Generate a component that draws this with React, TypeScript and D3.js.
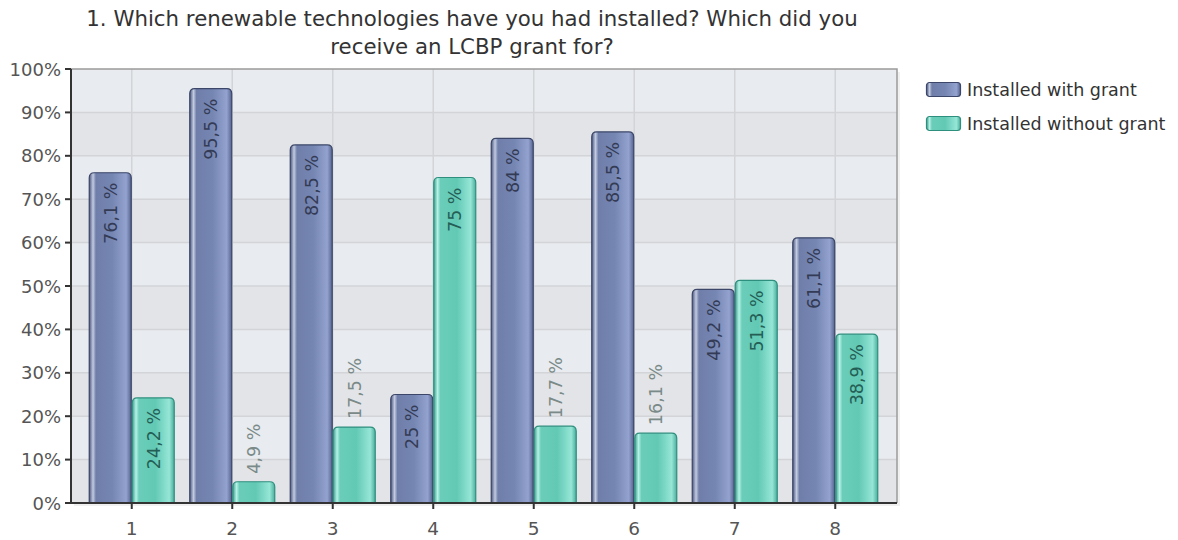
import React from "react";
import * as d3 from "d3";

const categories = ["1", "2", "3", "4", "5", "6", "7", "8"];
const withGrant = [76.1, 95.5, 82.5, 25, 84, 85.5, 49.2, 61.1];
const withoutGrant = [24.2, 4.9, 17.5, 75, 17.7, 16.1, 51.3, 38.9];
const seriesNames = ["Installed with grant", "Installed without grant"];
const yTicks = [0, 10, 20, 30, 40, 50, 60, 70, 80, 90, 100];
const titleLines = [
  "1. Which renewable technologies have you had installed? Which did you",
  "receive an LCBP grant for?",
];

const W = 1178;
const H = 540;
const plot = { left: 71, right: 897, top: 69, bottom: 503 };

const fmt = (v: number) => String(v).replace(".", ",") + " %";

export default function App() {
  const x = d3.scaleBand<string>().domain(categories).range([81.5, 885.5]).padding(0);
  const y = d3.scaleLinear().domain([0, 100]).range([plot.bottom, plot.top]);
  const barW = 43;
  const series = [
    { name: seriesNames[0], values: withGrant, grad: "gBlue", stroke: "#3b4668", inText: "#333b55", offset: -barW },
    { name: seriesNames[1], values: withoutGrant, grad: "gTeal", stroke: "#2f8f7f", inText: "#245e55", offset: 0 },
  ];
  const font = "'DejaVu Sans', Verdana, sans-serif";
  const stripes = yTicks.slice(0, -1);

  const barPath = (x0: number, w: number, yTop: number, yBot: number, r: number) => {
    const rr = Math.min(r, (yBot - yTop) / 2);
    return `M${x0},${yBot} L${x0},${yTop + rr} Q${x0},${yTop} ${x0 + rr},${yTop} L${x0 + w - rr},${yTop} Q${x0 + w},${yTop} ${x0 + w},${yTop + rr} L${x0 + w},${yBot} Z`;
  };

  return (
    <svg width={W} height={H} style={{ position: "absolute", left: 0, top: 0, fontFamily: font }}>
      <defs>
        <linearGradient id="gBlue" x1="0" x2="1" y1="0" y2="0">
          <stop offset="0%" stopColor="#4a5680" />
          <stop offset="9%" stopColor="#c3cbe0" />
          <stop offset="16%" stopColor="#6f7ea9" />
          <stop offset="55%" stopColor="#7686b3" />
          <stop offset="88%" stopColor="#93a2cf" />
          <stop offset="100%" stopColor="#56638f" />
        </linearGradient>
        <linearGradient id="gTeal" x1="0" x2="1" y1="0" y2="0">
          <stop offset="0%" stopColor="#3a9e8d" />
          <stop offset="9%" stopColor="#b6f2e6" />
          <stop offset="16%" stopColor="#6acdb9" />
          <stop offset="55%" stopColor="#62c9b5" />
          <stop offset="88%" stopColor="#96e6d6" />
          <stop offset="100%" stopColor="#4aae9c" />
        </linearGradient>
      </defs>
      <rect x={0} y={0} width={W} height={H} fill="#ffffff" />
      {/* title */}
      {titleLines.map((t, i) => (
        <text key={i} x={472} y={26 + i * 28} textAnchor="middle" fontSize={21.3} fill="#333">
          {t}
        </text>
      ))}
      {/* plot shadow */}
      <rect x={plot.left + 3} y={plot.top + 3} width={plot.right - plot.left} height={plot.bottom - plot.top} fill="#f0f0f0" />
      {/* stripes */}
      {stripes.map((v, i) => (
        <rect
          key={v}
          x={plot.left}
          y={y(v + 10)}
          width={plot.right - plot.left}
          height={y(v) - y(v + 10)}
          fill={i % 2 === 0 ? "#e3e4e7" : "#e8ebef"}
        />
      ))}
      {/* grid */}
      {yTicks.slice(1, -1).map((v) => (
        <line key={v} x1={plot.left} x2={plot.right} y1={y(v)} y2={y(v)} stroke="#d2d4d8" strokeWidth={1.5} />
      ))}
      {categories.map((c) => (
        <line key={c} x1={x(c)! + x.bandwidth() / 2} x2={x(c)! + x.bandwidth() / 2} y1={plot.top} y2={plot.bottom} stroke="#d2d4d8" strokeWidth={1.5} />
      ))}
      {/* border top/right */}
      <path d={`M${plot.left},${plot.top} L${plot.right},${plot.top} L${plot.right},${plot.bottom}`} fill="none" stroke="#9a9a9a" strokeWidth={1.5} />
      {/* bars */}
      {series.map((s) =>
        categories.map((c, i) => {
          const cx = x(c)! + x.bandwidth() / 2;
          const x0 = cx + s.offset;
          const v = s.values[i];
          return (
            <path key={s.name + c} d={barPath(x0 + 0.5, barW - 1, y(v), plot.bottom, 5)} fill={`url(#${s.grad})`} stroke={s.stroke} strokeWidth={1.2} />
          );
        })
      )}
      {/* value labels */}
      {series.map((s) =>
        categories.map((c, i) => {
          const cx = x(c)! + x.bandwidth() / 2;
          const lx = cx + s.offset + barW / 2 + 6.5;
          const v = s.values[i];
          const inside = v > 20;
          const ly = inside ? y(v) + 10 : y(v) - 8;
          return (
            <text
              key={"l" + s.name + c}
              transform={`translate(${lx},${ly}) rotate(-90)`}
              textAnchor={inside ? "end" : "start"}
              fontSize={17.5}
              fill={inside ? s.inText : "#7a8a88"}
            >
              {fmt(v)}
            </text>
          );
        })
      )}
      {/* axes */}
      <line x1={plot.left} x2={plot.left} y1={plot.top} y2={plot.bottom} stroke="#333" strokeWidth={2} />
      <line x1={plot.left - 5} x2={plot.right} y1={plot.bottom} y2={plot.bottom} stroke="#333" strokeWidth={2} />
      {yTicks.map((v) => (
        <g key={v}>
          <line x1={plot.left - 6} x2={plot.left} y1={y(v)} y2={y(v)} stroke="#333" strokeWidth={2} />
          <text x={61} y={y(v) + 6.5} textAnchor="end" fontSize={18} fill="#555">
            {v}%
          </text>
        </g>
      ))}
      {categories.map((c) => {
        const cx = x(c)! + x.bandwidth() / 2;
        return (
          <g key={c}>
            <line x1={cx} x2={cx} y1={plot.bottom} y2={plot.bottom + 6} stroke="#333" strokeWidth={2} />
            <text x={cx} y={535} textAnchor="middle" fontSize={18.5} fill="#555">
              {c}
            </text>
          </g>
        );
      })}
      {/* legend */}
      {series.map((s, i) => (
        <g key={s.name} transform={`translate(926,${82 + i * 34})`}>
          <rect x={0.5} y={0.5} width={34} height={14} rx={3} fill={`url(#${s.grad})`} stroke={s.stroke} strokeWidth={1.2} />
          <text x={41} y={13.5} fontSize={17.5} fill="#333">
            {s.name}
          </text>
        </g>
      ))}
    </svg>
  );
}
